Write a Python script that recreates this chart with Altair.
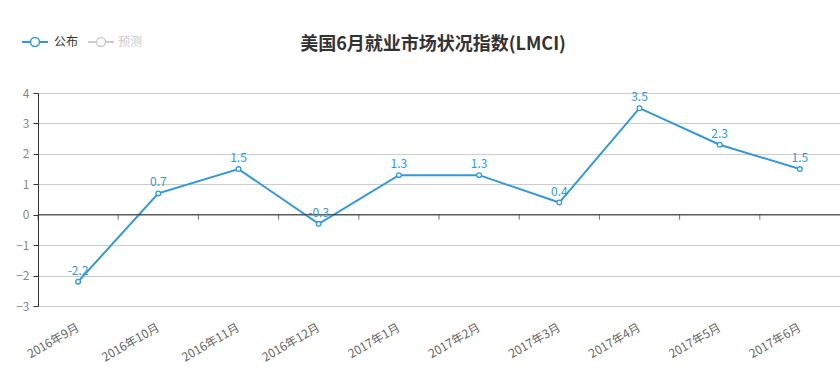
import altair as alt
import pandas as pd

months = ["2016年9月", "2016年10月", "2016年11月", "2016年12月", "2017年1月",
          "2017年2月", "2017年3月", "2017年4月", "2017年5月", "2017年6月"]
values = [-2.2, 0.7, 1.5, -0.3, 1.3, 1.3, 0.4, 3.5, 2.3, 1.5]
y_ticks = [-3, -2, -1, 0, 1, 2, 3, 4]
legend_names = ["公布", "预测"]
title_text = "美国6月就业市场状况指数(LMCI)"

BLUE = "#3398DB"
FONT = "Noto Sans CJK SC"

df = pd.DataFrame({"month": months, "value": values,
                   "label": [f"{v:g}" for v in values],
                   "zero": [0] * len(months)})

xs = alt.Scale(type="band", domain=months, paddingInner=0, paddingOuter=0)
ys = alt.Scale(domain=[-3, 4], nice=False, zero=False)

x_axis = alt.Axis(title=None, domain=False, ticks=False, labelAngle=-30,
                  labelAlign="right", labelBaseline="middle",
                  labelPadding=20, labelColor="#666", labelFontSize=12,
                  labelFont=FONT, labelOverlap=False)
y_axis = alt.Axis(title=None, values=y_ticks, tickCount=8, grid=True, gridColor="#ccc",
                  domainColor="#333", tickColor="#333", tickSize=5,
                  labelColor="#888", labelFontSize=12, labelFont=FONT,
                  labelPadding=4, labelOverlap=False, labelFlush=False)

base = alt.Chart(df)

x_center = alt.X("month:N", scale=xs, sort=months, bandPosition=0.5, axis=x_axis)
y_enc = alt.Y("value:Q", scale=ys, axis=y_axis)
y_zero = alt.Y("zero:Q", scale=ys, axis=y_axis)

line = base.mark_line(color=BLUE, strokeWidth=2).encode(x=x_center, y=y_enc)
pts = base.mark_point(shape="circle", filled=True, fill="white", stroke=BLUE,
                      strokeWidth=1.3, size=22, opacity=1).encode(x=x_center, y=y_enc)
txt = base.mark_text(color=BLUE, fontSize=12, font=FONT, dy=-11).encode(
    x=x_center, y=y_enc, text="label:N")

zero = alt.Chart(alt.Data(values=[{"zero": 0}])).mark_rule(color="#333", strokeWidth=1).encode(
    y=y_zero)
ticks = base.mark_tick(orient="vertical", size=5, thickness=1, color="#333", yOffset=2.5).encode(
    x=alt.X("month:N", scale=xs, sort=months, bandPosition=0, axis=x_axis),
    y=y_zero)

# title and manual legend (positions in pixels relative to plot area)
one = alt.Chart(alt.Data(values=[{}]))
title_mark = one.mark_text(align="center", baseline="middle", fontSize=18, fontWeight="bold",
                           font=FONT, color="#333", text=title_text).encode(
    x=alt.value(395), y=alt.value(-48))
leg_line1 = one.mark_rule(color=BLUE, strokeWidth=2).encode(
    x=alt.value(-16), x2=alt.value(10), y=alt.value(-51))
leg_pt1 = one.mark_point(shape="circle", filled=True, fill="white", stroke=BLUE,
                         strokeWidth=1.5, size=80, opacity=1).encode(
    x=alt.value(-3), y=alt.value(-51))
leg_txt1 = one.mark_text(align="left", baseline="middle", fontSize=12, font=FONT,
                         color="#333", text=legend_names[0]).encode(
    x=alt.value(16), y=alt.value(-51))
leg_line2 = one.mark_rule(color="#ccc", strokeWidth=2).encode(
    x=alt.value(50), x2=alt.value(76), y=alt.value(-51))
leg_pt2 = one.mark_point(shape="circle", filled=True, fill="white", stroke="#ccc",
                         strokeWidth=1.5, size=80, opacity=1).encode(
    x=alt.value(63), y=alt.value(-51))
leg_txt2 = one.mark_text(align="left", baseline="middle", fontSize=12, font=FONT,
                         color="#ccc", text=legend_names[1]).encode(
    x=alt.value(80), y=alt.value(-51))

chart = alt.layer(line, zero, ticks, pts, txt, title_mark,
                  leg_line1, leg_pt1, leg_txt1, leg_line2, leg_pt2, leg_txt2).properties(
    width=802, height=213,
    autosize=alt.AutoSizeParams(type="none"),
    padding={"left": 38, "top": 93, "right": 0, "bottom": 70},
).configure_view(stroke=None)

chart.save("out.html", embed_options={"renderer": "svg", "actions": False})
